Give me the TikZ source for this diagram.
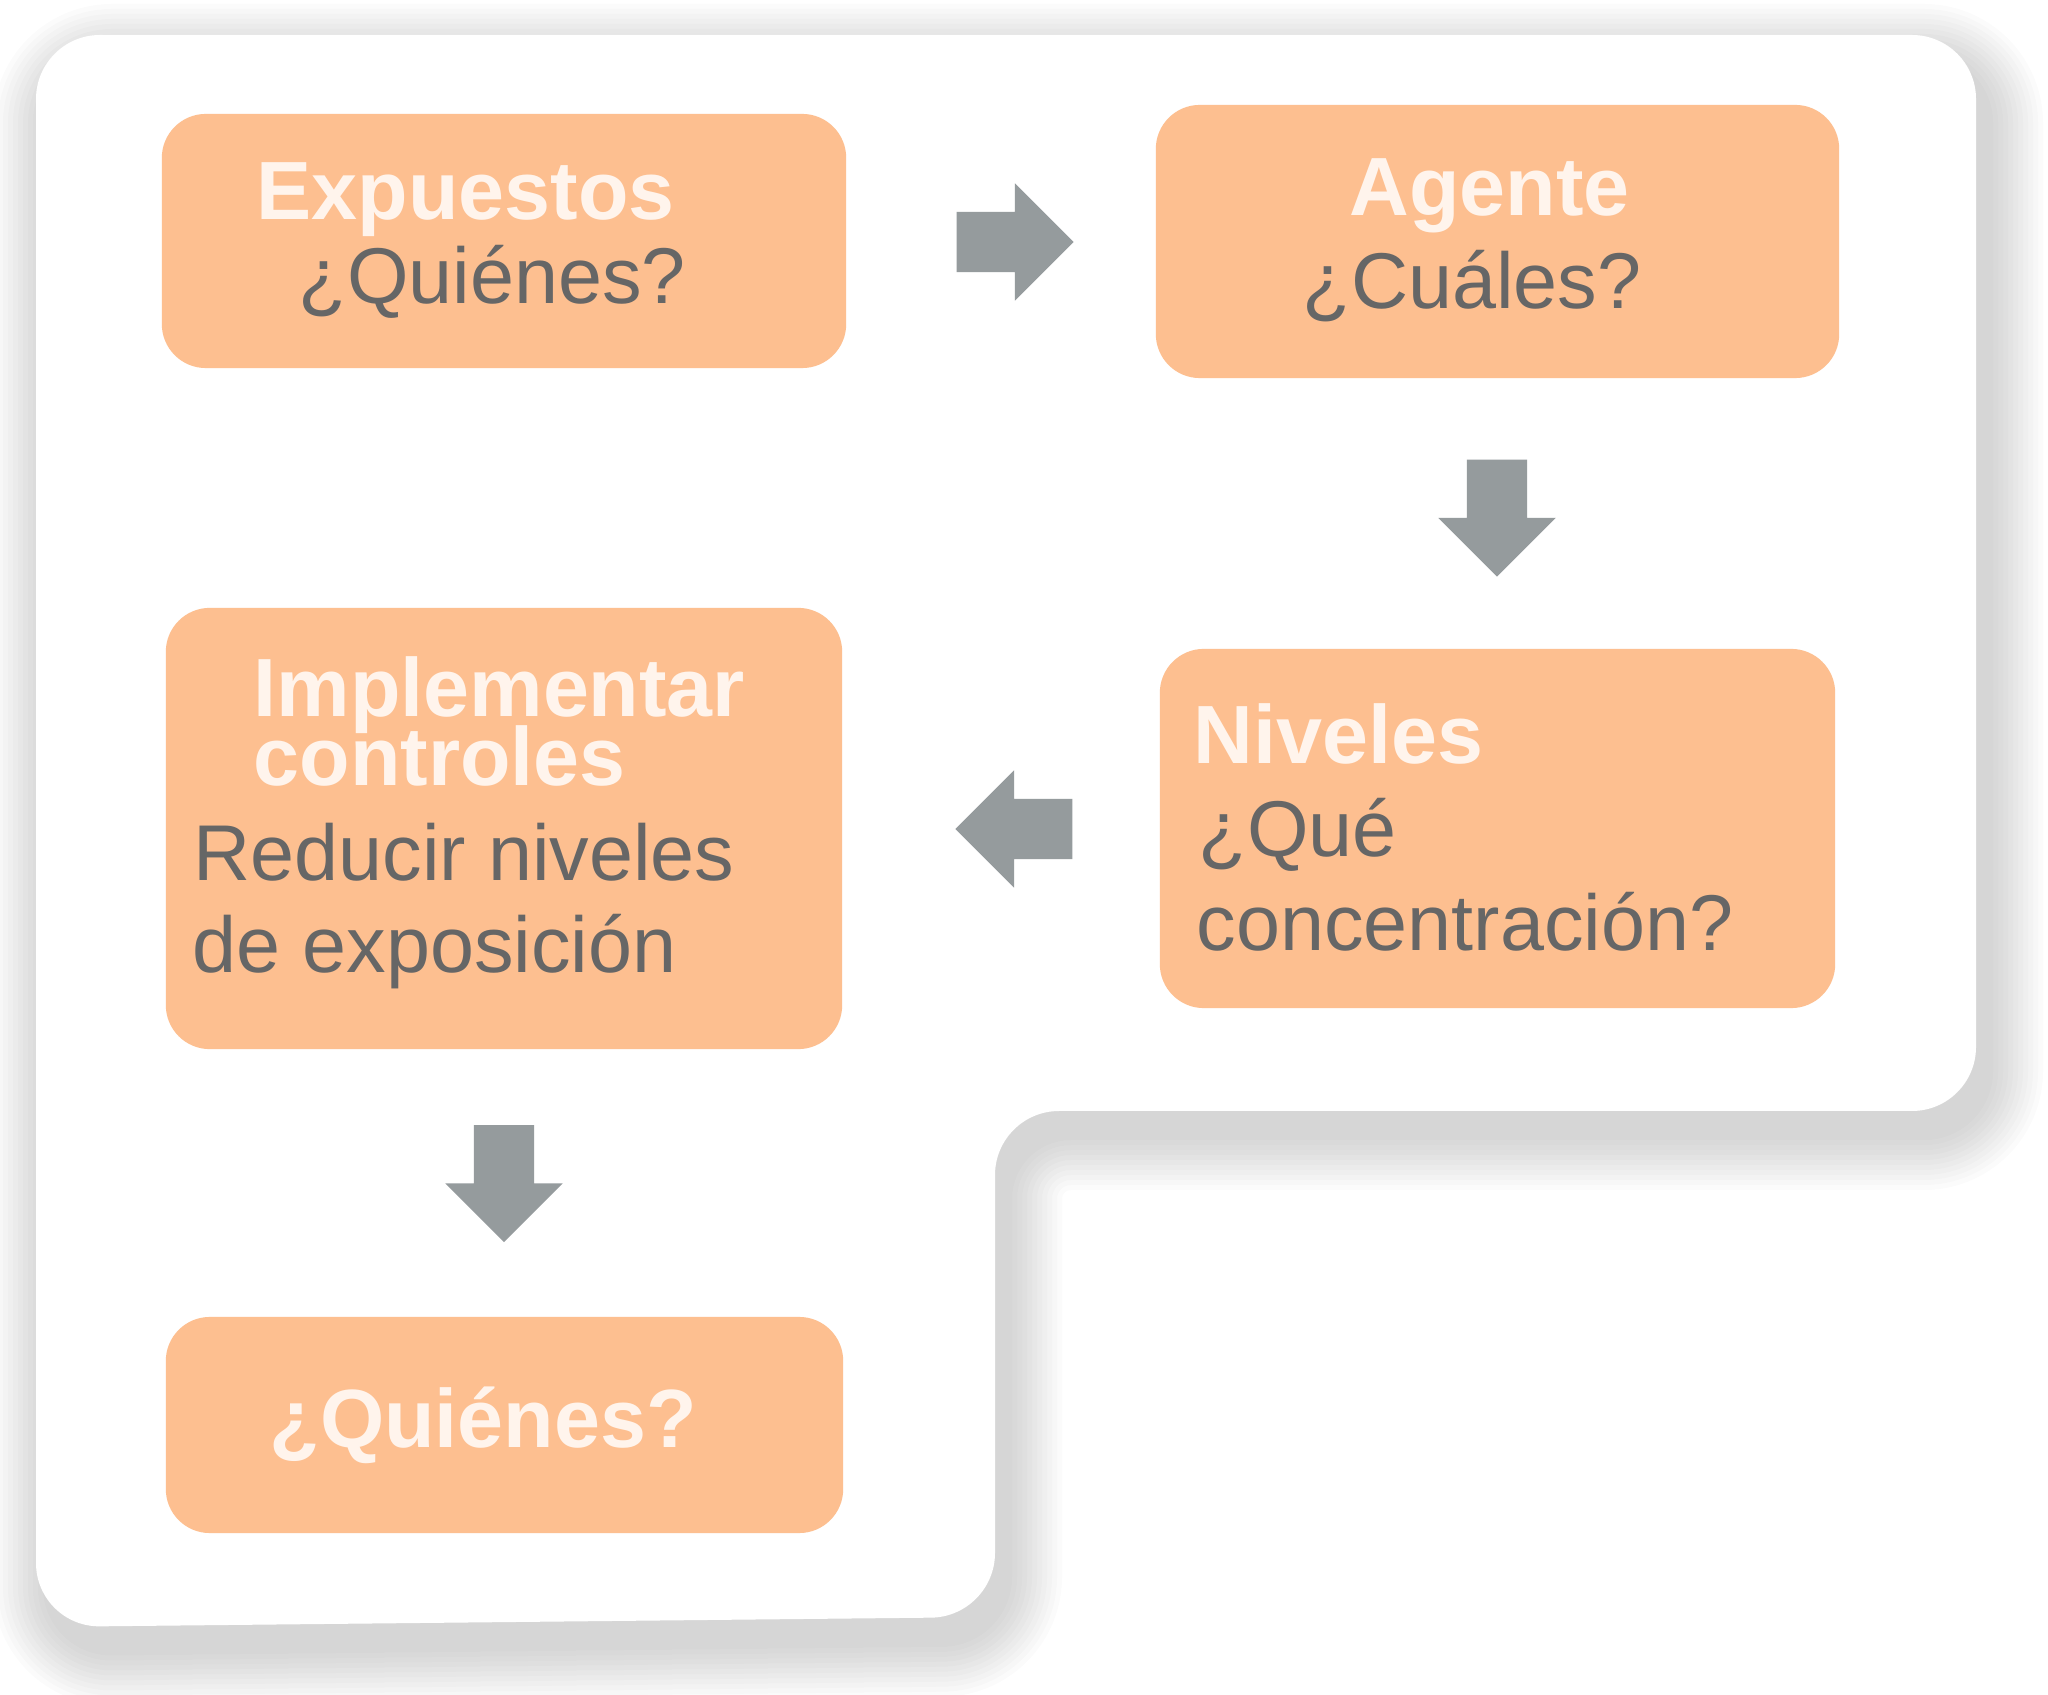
\documentclass[tikz,border=0pt]{standalone}
\usepackage{fontspec}
\setmainfont{Liberation Sans}
\usetikzlibrary{shapes.arrows,positioning}

\definecolor{boxfill}{HTML}{FDBF90}
\definecolor{arrowgray}{HTML}{959B9D}
\definecolor{textgray}{HTML}{666666}
\definecolor{titlewhite}{HTML}{FFF4EC}

\tikzset{
  stepbox/.style={fill=boxfill,rounded corners=0.44cm,inner sep=0pt},
  title/.style={anchor=base west,inner sep=0pt,text=titlewhite,font=\fontsize{23.5}{23.5}\selectfont\bfseries},
  body/.style={anchor=base west,inner sep=0pt,text=textgray,font=\fontsize{22.5}{22.5}\selectfont},
  flow/.style={single arrow,fill=arrowgray,inner sep=0.295cm,minimum width=1.16cm,minimum height=1.17cm,single arrow head extend=0.285cm}
}

% outline of the white panel
\newcommand\paneloutline{(36,35) -- (1976,35) -- (1976,1111) -- (995,1111) -- (995,1617) -- (36,1627) -- cycle}

\begin{document}
\begin{tikzpicture}[x=0.01cm,y=-0.01cm]
\path[use as bounding box] (0,0) rectangle (2048,1695);
% soft shadow
\foreach \w in {110,100,...,10}
  {\begin{scope}[transparency group,opacity=0.016]
    \filldraw[line width=\w*0.01cm,black,line join=round,rounded corners=0.64cm,shift={(12,24)}] \paneloutline;
  \end{scope}}
\fill[white,rounded corners=0.64cm] \paneloutline;

% boxes
\node[stepbox,minimum width=6.84cm,minimum height=2.54cm] (expuestos) at (504,241) {};
\node[stepbox,minimum width=6.83cm,minimum height=2.73cm] (agente) at (1497.5,241.5) {};
\node[stepbox,minimum width=6.75cm,minimum height=3.59cm] (niveles) at (1497.5,828.5) {};
\node[stepbox,minimum width=6.76cm,minimum height=4.41cm] (implementar) at (504,828.5) {};
\node[stepbox,minimum width=6.77cm,minimum height=2.16cm] (quienes) at (504.5,1425) {};

% texts
\node[title] (expT) at (256,220) {Expuestos};
\node[body] (expQ) at (298,304) {¿Quiénes?};
\node[title] (ageT) at (1349,216) {Agente};
\node[body] (ageQ) at (1302,309) {¿Cuáles?};
\node[title] (nivT) at (1193,764) {Niveles};
\node[body] (nivQa) at (1198,857) {¿Qué};
\node[body] (nivQb) at (1196,951) {concentración?};
\node[title] (impTa) at (253,717) {Implementar};
\node[title] (impTb) at (253,786) {controles};
\node[body] (impBa) at (193,881) {Reducir niveles};
\node[body] (impBb) at (192,973) {de exposición};
\node[title] (quiT) at (269,1447) {¿Quiénes?};

% arrows
\node[flow] (arrA) at (1000,242) {};
\node[flow,shape border rotate=270] (arrB) at (1497,503) {};
\node[flow,shape border rotate=180] (arrC) at (1029,829) {};
\node[flow,shape border rotate=270] (arrD) at (504,1168.5) {};
\end{tikzpicture}
\end{document}
